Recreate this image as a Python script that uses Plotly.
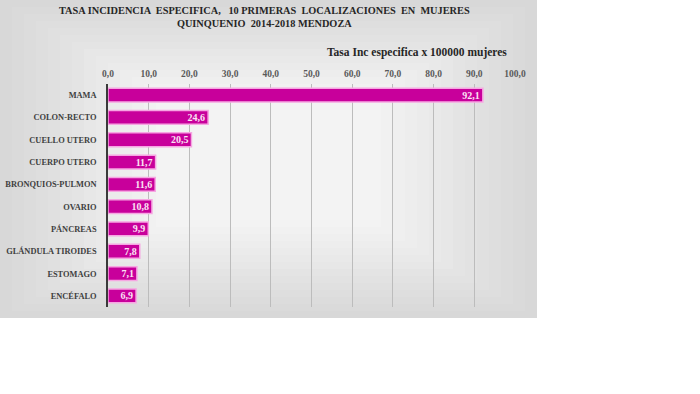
import plotly.graph_objects as go

categories = ["MAMA", "COLON-RECTO", "CUELLO UTERO", "CUERPO UTERO", "BRONQUIOS-PULMON",
              "OVARIO", "PÁNCREAS", "GLÁNDULA TIROIDES", "ESTOMAGO", "ENCÉFALO"]
values = [92.1, 24.6, 20.5, 11.7, 11.6, 10.8, 9.9, 7.8, 7.1, 6.9]
labels = [f"{v:.1f}".replace(".", ",") for v in values]
title_lines = ["TASA INCIDENCIA  ESPECIFICA,   10 PRIMERAS  LOCALIZACIONES  EN  MUJERES",
               "QUINQUENIO  2014-2018 MENDOZA"]
axis_title = "Tasa Inc especifica x 100000 mujeres"

W, H = 700, 394
L, R, T, B = 108, 515, 84, 307
FONT = "Liberation Serif"

fig = go.Figure()
fig.add_trace(go.Bar(
    x=values, y=categories, orientation="h",
    marker=dict(color="#C8009B", line=dict(color="#F6A6E2", width=1.5)),
    width=0.62,
    text=labels, textposition="inside", insidetextanchor="end", constraintext="none",
    textfont=dict(family=FONT, size=10, color="#FBE3F4", weight="bold"),
    cliponaxis=False,
))

# background panel (image area of the original chart)
px = lambda x: (x - L) / (R - L)
py = lambda y: (B - y) / (B - T)
n = 14
for i in range(n):
    v = int(round(0xd8 + (0xf3 - 0xd8) * i / (n - 1)))
    c = f"#{v:02x}{v:02x}{v:02x}"
    dx = i * 12
    dy = i * 7
    fig.add_shape(type="rect", xref="paper", yref="paper", layer="below",
                  x0=px(0 + dx), x1=px(537 - dx), y0=py(318 - dy), y1=py(0 + dy),
                  fillcolor=c, line=dict(width=0))

fig.add_annotation(text="<b>" + title_lines[0] + "<br>" + title_lines[1] + "</b>",
                   xref="paper", yref="paper", x=px(264), y=py(17), xanchor="center", yanchor="middle",
                   showarrow=False, font=dict(family=FONT, size=10.3, color="#262626"))
fig.add_annotation(text="<b>" + axis_title + "</b>",
                   xref="paper", yref="paper", x=px(509), y=py(52), xanchor="right", yanchor="middle",
                   showarrow=False, font=dict(family=FONT, size=11.5, color="#262626"))

fig.update_layout(
    width=W, height=H,
    margin=dict(l=L, r=W - R, t=T, b=H - B, pad=0),
    paper_bgcolor="white", plot_bgcolor="rgba(0,0,0,0)",
    separators=",.",
    showlegend=False,
    xaxis=dict(side="top", range=[0, 100], dtick=10, tickformat=".1f", automargin=False,
               showgrid=True, gridcolor="#bcbcbc", gridwidth=1.2, zeroline=False,
               showline=False, ticks="", ticklabelstandoff=4,
               tickfont=dict(family=FONT, size=9.5, color="#5a5a5a", weight="bold")),
    yaxis=dict(autorange="reversed", showline=True, linecolor="#3a3a3a", linewidth=1.5,
               ticks="", ticklabelstandoff=8, showgrid=False, automargin=False,
               tickfont=dict(family=FONT, size=8.4, color="#404040", weight="bold")),
    bargap=0.38,
)

fig.write_html("out.html", config={"displayModeBar": False},
               post_script="document.body.style.margin='0';")
